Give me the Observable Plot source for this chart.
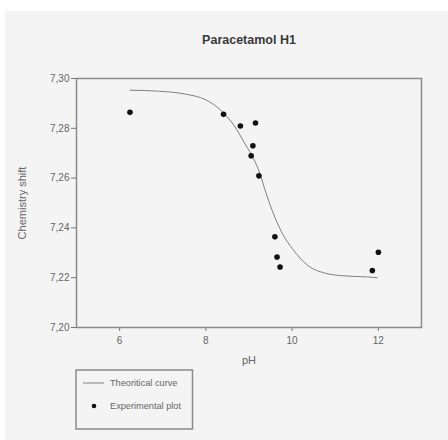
<!DOCTYPE html>
<html>
<head>
<meta charset="utf-8">
<script src="https://cdn.jsdelivr.net/npm/d3@7"></script>
<script src="https://cdn.jsdelivr.net/npm/@observablehq/plot@0.6"></script>
<style>
  html, body { margin: 0; padding: 0; background: #ffffff; }
  #chart svg { display: block; }
</style>
</head>
<body>
<div id="chart"></div>
<script>
const title = "Paracetamol H1";
const xLabel = "pH";
const yLabel = "Chemistry shift";
const legendLabels = ["Theoritical curve", "Experimental plot"];

// Experimental points
const expPH    = [6.24, 8.41, 8.80, 9.15, 9.09, 9.05, 9.23, 9.60, 9.65, 9.72, 11.86, 12.00];
const expShift = [7.2864, 7.2856, 7.2809, 7.2821, 7.2730, 7.2690, 7.2609, 7.2364, 7.2283, 7.2243, 7.2229, 7.2302];

// Theoretical curve
const curvePH    = [6.24, 6.9, 7.5, 8.0, 8.35, 8.65, 8.93, 9.1, 9.25, 9.4, 9.6, 9.8, 10.0, 10.37, 10.75, 11.15, 11.75, 11.97];
const curveShift = [7.2953, 7.2949, 7.2938, 7.2914, 7.2872, 7.2812, 7.2731, 7.2680, 7.2620, 7.2537, 7.2443, 7.2369, 7.2318, 7.2248, 7.2219, 7.2208, 7.2203, 7.2200];

const xTicks = [6, 8, 10, 12];
const yTicks = [7.20, 7.22, 7.24, 7.26, 7.28, 7.30];

const points = expPH.map((x, i) => ({x, y: expShift[i]}));
const curve = curvePH.map((x, i) => ({x, y: curveShift[i]}));

const fmtY = d => d3.format(".2f")(d).replace(".", ",");

const plot = Plot.plot({
  width: 448,
  height: 440,
  marginLeft: 76,
  marginTop: 78,
  marginRight: 27,
  marginBottom: 113,
  style: {background: "transparent", fontFamily: "Liberation Sans, Arial, sans-serif", fontSize: "10px", color: "#666"},
  x: {domain: [5, 13], ticks: xTicks, label: null, tickSize: 4, tickPadding: 5},
  y: {domain: [7.20, 7.30], ticks: yTicks, tickFormat: fmtY, label: null, tickSize: 5, tickPadding: 2},
  marks: [
    Plot.axisX({ticks: xTicks, tickSize: 4, tickPadding: 5, fontSize: 10, stroke: "#777", fill: "#666", label: null}),
    Plot.axisY({ticks: yTicks, tickFormat: fmtY, tickSize: 5, tickPadding: 2, fontSize: 10, stroke: "#777", fill: "#666", label: null}),
    Plot.frame({stroke: "#8a8a8a", strokeWidth: 1.5}),
    Plot.line(curve, {x: "x", y: "y", curve: "monotone-x", stroke: "#808080", strokeWidth: 1}),
    Plot.dot(points, {x: "x", y: "y", r: 2.8, fill: "#111", stroke: "none"}),
    Plot.text([title], {frameAnchor: "top", dy: -43, fontSize: 12.5, fontWeight: "bold", fill: "#3a3a3a"}),
    Plot.text([xLabel], {frameAnchor: "bottom", dy: 36, fontSize: 11, fill: "#666"}),
    Plot.text([yLabel], {frameAnchor: "left", textAnchor: "middle", dx: -54, dy: 0, rotate: -90, fontSize: 11, fill: "#666"})
  ]
});

const svg = d3.select(plot);
// grey panel background
svg.insert("rect", ":first-child")
  .attr("x", 5).attr("y", 11).attr("width", 443).attr("height", 429)
  .attr("fill", "#f4f4f4");

// legend box
const lg = svg.append("g")
  .attr("font-family", "Liberation Sans, Arial, sans-serif")
  .attr("font-size", 9.2).attr("fill", "#666").attr("text-anchor", "start");
lg.append("rect").attr("x", 76).attr("y", 370).attr("width", 116.5).attr("height", 59)
  .attr("fill", "none").attr("stroke", "#8a8a8a").attr("stroke-width", 1.5);
lg.append("line").attr("x1", 83).attr("x2", 104).attr("y1", 383).attr("y2", 383)
  .attr("stroke", "#808080").attr("stroke-width", 1);
lg.append("text").attr("x", 110).attr("y", 383).attr("dy", "0.35em").attr("text-anchor", "start").text(legendLabels[0]);
lg.append("circle").attr("cx", 94).attr("cy", 406).attr("r", 2.3).attr("fill", "#111");
lg.append("text").attr("x", 110).attr("y", 406).attr("dy", "0.35em").attr("text-anchor", "start").text(legendLabels[1]);

document.getElementById("chart").appendChild(plot);
</script>
</body>
</html>
